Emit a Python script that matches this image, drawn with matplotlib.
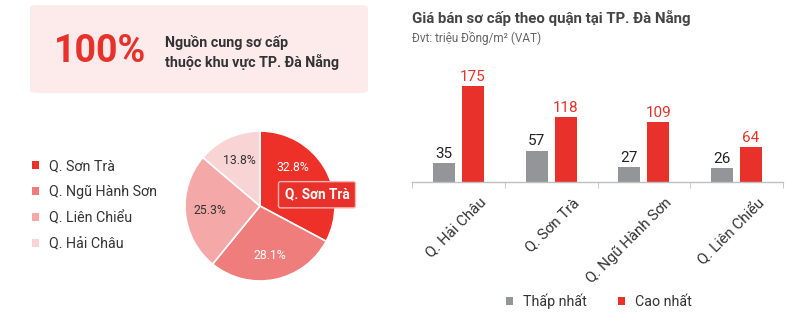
import matplotlib
matplotlib.use("Agg")
import matplotlib.pyplot as plt
from matplotlib.patches import FancyBboxPatch, Patch
from matplotlib.transforms import ScaledTranslation

plt.rcParams["font.family"] = ["Roboto", "DejaVu Sans"]

# pie data (clockwise from top)
PIE_LABELS = ["Q. Sơn Trà", "Q. Ngũ Hành Sơn", "Q. Liên Chiểu", "Q. Hải Châu"]
PIE_SHARES = [32.8, 28.1, 25.3, 13.8]
PIE_COLORS = ["#EE3128", "#EF7D7B", "#F4A9A8", "#F9D4D4"]
PIE_TEXT_COLORS = ["white", "white", "#333333", "#333333"]

# bar data
DISTRICTS = ["Q. Hải Châu", "Q. Sơn Trà", "Q. Ngũ Hành Sơn", "Q. Liên Chiểu"]
LOWEST = [35, 57, 27, 26]
HIGHEST = [175, 118, 109, 64]

RED = "#E8312A"
GRAY = "#939598"
DARK = "#333333"

W, H = 808, 332
fig = plt.figure(figsize=(W / 100, H / 100), dpi=100)


def fx(px):
    return px / W


def fy(py):
    return 1 - py / H


# ---- header box ----
box = FancyBboxPatch((fx(30), fy(93)), fx(338), 88 / H,
                     boxstyle="round,pad=0,rounding_size=0.008",
                     transform=fig.transFigure, facecolor="#FDEBEC",
                     edgecolor="none")
fig.patches.append(box)
fig.text(fx(54), fy(52), "100%", color=RED, fontsize=27, fontweight="bold",
         va="center", ha="left")
fig.text(fx(165), fy(42), "Nguồn cung sơ cấp", color=DARK, fontsize=10.3,
         fontweight="bold", va="center", ha="left")
fig.text(fx(165), fy(62), "thuộc khu vực TP. Đà Nẵng", color=DARK, fontsize=10.3,
         fontweight="bold", va="center", ha="left")

# ---- pie ----
cx, cy, r = 260, 206, 75
pad = 80
ax_pie = fig.add_axes([fx(cx - pad), fy(cy + pad), 2 * pad / W, 2 * pad / H])
wedges, texts, autotexts = ax_pie.pie(
    PIE_SHARES, colors=PIE_COLORS, startangle=90, counterclock=False,
    autopct="%.1f%%", pctdistance=0.67,
    wedgeprops=dict(edgecolor="white", linewidth=1.2),
    textprops=dict(fontsize=8.8))
for t, c in zip(autotexts, PIE_TEXT_COLORS):
    t.set_color(c)
autotexts[0].set_position((0.43, 0.51))
ax_pie.set_xlim(-pad / r, pad / r)
ax_pie.set_ylim(-pad / r, pad / r)
ax_pie.set_aspect("equal")
ax_pie.axis("off")
ax_pie.text(0.76, 0.15, PIE_LABELS[0], color="white", fontsize=9.8,
            fontweight="bold", ha="center", va="center", clip_on=False,
            bbox=dict(boxstyle="round,pad=0.45,rounding_size=0.15",
                      facecolor=RED, edgecolor="#F6B6B3", linewidth=1))

pie_handles = [Patch(facecolor=c, edgecolor="none") for c in PIE_COLORS]
fig.legend(pie_handles, PIE_LABELS, loc="center left",
           bbox_to_anchor=(fx(19), fy(205)), frameon=False, fontsize=10.3,
           handlelength=0.5, handleheight=0.5, handletextpad=0.7,
           labelspacing=0.82, labelcolor=DARK)

# ---- bars ----
fig.text(fx(412), fy(18), "Giá bán sơ cấp theo quận tại TP. Đà Nẵng",
         color="#444444", fontsize=10.8, fontweight="bold", va="center")
fig.text(fx(412), fy(38), "Đvt: triệu Đồng/m² (VAT)", color="#666666",
         fontsize=8.5, va="center")

ax = fig.add_axes([fx(412), fy(182), fx(371), 122 / H])
x = list(range(len(DISTRICTS)))
off, bw = 0.156, 0.237
b1 = ax.bar([i - off for i in x], LOWEST, width=bw, color=GRAY)
b2 = ax.bar([i + off for i in x], HIGHEST, width=bw, color=RED)
for rect, v in zip(b1, LOWEST):
    ax.text(rect.get_x() + rect.get_width() / 2, v + 4, str(v), ha="center",
            va="bottom", fontsize=11, color="#222222")
for rect, v in zip(b2, HIGHEST):
    ax.text(rect.get_x() + rect.get_width() / 2, v + 4, str(v), ha="center",
            va="bottom", fontsize=11, color=RED)

ax.set_xlim(-0.5, len(DISTRICTS) - 0.5)
ax.set_ylim(0, 222)
ax.set_yticks([])
for s in ["top", "right", "left"]:
    ax.spines[s].set_visible(False)
ax.spines["bottom"].set_color("#BFBFBF")
ax.spines["bottom"].set_linewidth(1)
ax.set_xticks([i - 0.5 for i in range(len(DISTRICTS) + 1)], minor=True)
ax.tick_params(axis="x", which="minor", length=4, color="#BFBFBF")
ax.set_xticks(x)
ax.set_xticklabels(DISTRICTS, rotation=45, ha="right", va="top",
                   rotation_mode="anchor", fontsize=10.8, color=DARK)
ax.tick_params(axis="x", which="major", length=0, pad=10)
shift = ScaledTranslation(0.21, 0, fig.dpi_scale_trans)
for lab in ax.get_xticklabels():
    lab.set_transform(lab.get_transform() + shift)

bar_handles = [Patch(facecolor=GRAY), Patch(facecolor=RED)]
fig.legend(bar_handles, ["Thấp nhất", "Cao nhất"], loc="center",
           bbox_to_anchor=(fx(599), fy(301)), ncol=2, frameon=False,
           fontsize=10.3, handlelength=0.5, handleheight=0.5,
           handletextpad=0.7, columnspacing=2.2, labelcolor=DARK)

fig.savefig("out.png", dpi=100, facecolor="white")
